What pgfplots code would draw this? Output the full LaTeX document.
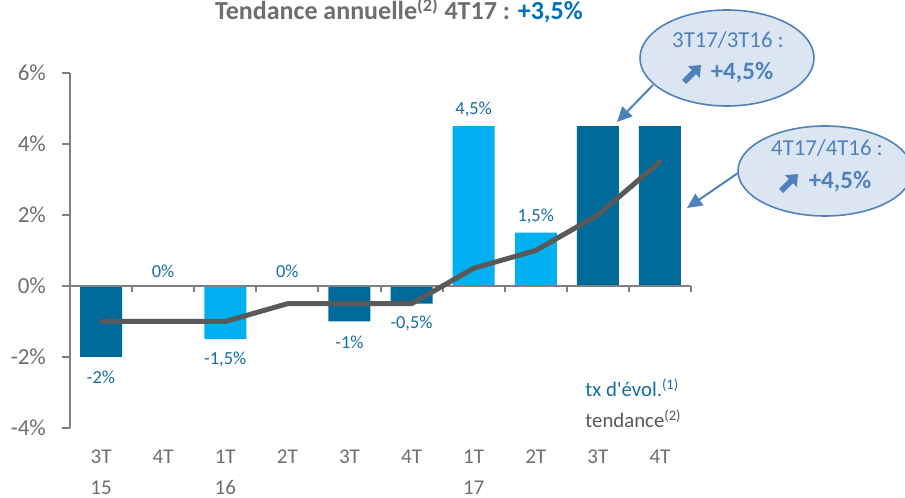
\documentclass[border=0pt]{standalone}
\usepackage{pgfplots}
\pgfplotsset{compat=1.18}
\usepackage{fontspec}
\setmainfont{Carlito}
\usetikzlibrary{arrows.meta}
\definecolor{darkb}{RGB}{0,107,154}
\definecolor{lightb}{RGB}{0,176,240}
\definecolor{lbl}{RGB}{23,110,160}
\definecolor{trend}{RGB}{89,89,89}
\definecolor{axgray}{RGB}{128,128,128}
\definecolor{txtgray}{RGB}{110,110,110}
\definecolor{callfill}{RGB}{220,230,242}
\definecolor{callline}{RGB}{79,129,189}
\definecolor{titleblue}{RGB}{0,112,192}
\begin{document}
\begin{tikzpicture}[x=0.5pt,y=0.5pt]
\path[use as bounding box] (0,0) rectangle (905,498);
\clip (0,0) rectangle (905,498);
\begin{axis}[
  at={(35pt,35pt)}, anchor=south west,
  scale only axis, width=310.5pt, height=177.5pt,
  xmin=-0.5, xmax=9.5, ymin=-4, ymax=6,
  axis y line=left, axis x line=bottom,
  x axis line style={draw=none},
  y axis line style={draw=axgray, line width=1pt, -},
  xtick={0,...,9},
  xticklabels={{3T\\15},{4T\\\phantom{15}},{1T\\16},{2T\\\phantom{15}},{3T\\\phantom{15}},{4T\\\phantom{15}},{1T\\17},{2T\\\phantom{15}},{3T\\\phantom{15}},{4T\\\phantom{15}}},
  xticklabel style={align=center, font=\fontsize{10.5}{15.5}\selectfont, text=txtgray, anchor=north, yshift=-3.5pt},
  xtick style={draw=none},
  ytick={-4,-2,...,6},
  yticklabels={-4\%,-2\%,0\%,2\%,4\%,6\%},
  yticklabel style={font=\fontsize{11.5}{13}\selectfont, text=txtgray, xshift=-4.5pt},
  ytick style={draw=axgray, line width=1pt},
  tick align=outside, major tick length=4pt,
  clip=false,
]
\addplot[ybar, bar width=21pt, bar shift=0pt, fill=darkb, draw=none] coordinates {(0,-2) (4,-1) (5,-0.5) (8,4.5) (9,4.5)};
\addplot[ybar, bar width=21pt, bar shift=0pt, fill=lightb, draw=none] coordinates {(2,-1.5) (6,4.5) (7,1.5)};
\draw[axgray, line width=1pt] (axis cs:-0.5,0) -- (axis cs:9.5,0);
\pgfplotsinvokeforeach{0.5,1.5,2.5,3.5,4.5,5.5,6.5,7.5,8.5,9.5}{\draw[axgray, line width=1pt] (axis cs:#1,0) -- ++(0pt,-3pt);}
\addplot[trend, line width=2.5pt, line cap=round, line join=round, mark=none] coordinates {(0,-1) (1,-1) (2,-1) (3,-0.5) (4,-0.5) (5,-0.5) (6,0.5) (7,1) (8,2) (9,3.5)};
\begin{scope}[every node/.style={text=lbl, font=\fontsize{9.2}{11}\selectfont}]
\node at (axis cs:0,-2.57) {-2\%};
\node at (axis cs:1,0.4) {0\%};
\node at (axis cs:2,-2.06) {-1,5\%};
\node at (axis cs:3,0.4) {0\%};
\node at (axis cs:4,-1.58) {-1\%};
\node at (axis cs:5,-1.04) {-0,5\%};
\node at (axis cs:6,4.97) {4,5\%};
\node at (axis cs:7,1.95) {1,5\%};
\end{scope}
\end{axis}
% title
\node[anchor=base, font=\fontsize{13}{15}\selectfont\bfseries, text=txtgray] at (399,478) {Tendance annuelle\textsuperscript{(2)} 4T17 : \textcolor{titleblue}{+3,5\%}};
% legend texts
\node[anchor=base west, inner sep=0pt, text=lbl, font=\fontsize{10.4}{12}\selectfont] at (585,101) {tx d\textquotesingle évol.\textsuperscript{(1)}};
\node[anchor=base west, inner sep=0pt, text=trend, font=\fontsize{10.4}{12}\selectfont] at (585,70) {tendance\textsuperscript{(2)}};
% callouts
\draw[callline, line width=1pt, -{Triangle[length=7.5pt,width=7pt]}] (653,413) -- (617,376);
\draw[callline, line width=1pt, -{Triangle[length=7.5pt,width=7pt]}] (738,325) -- (687,290);
\draw[callline, line width=0.8pt, fill=callfill] (727,440) ellipse [x radius=87, y radius=48];
\draw[callline, line width=0.8pt, fill=callfill] (825,327) ellipse [x radius=87, y radius=45];
\node[text=callline, font=\fontsize{11.4}{13}\selectfont] at (728,458) {3T17/3T16 :};
\node[text=callline, font=\fontsize{12.5}{14}\selectfont\bfseries] at (742,425) {+4,5\%};
\draw[callline, line width=3pt, -{Triangle[length=5pt,width=8pt]}] (684,416) -- (701,433);
\node[text=callline, font=\fontsize{11.4}{13}\selectfont] at (827,350) {4T17/4T16 :};
\node[text=callline, font=\fontsize{12.5}{14}\selectfont\bfseries] at (840,316) {+4,5\%};
\draw[callline, line width=3pt, -{Triangle[length=5pt,width=8pt]}] (781,307) -- (798,324);
\end{tikzpicture}
\end{document}
